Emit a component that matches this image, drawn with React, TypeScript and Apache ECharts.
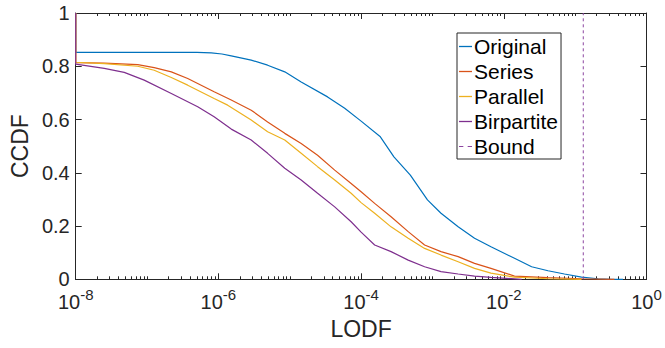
import React, { useEffect, useRef } from 'react';
import * as echarts from 'echarts';

// ---- data (x given as log10(LODF), y as CCDF) ----
const seriesNames = ['Original', 'Series', 'Parallel', 'Birpartite', 'Bound'];

const originalLogX = [-8, -8, -6.3, -6.1, -5.95, -5.82, -5.54, -5.31, -5.07, -4.84, -4.47, -4.23, -4.0, -3.73, -3.54, -3.31, -3.07, -2.88, -2.64, -2.41, -2.18, -1.85, -1.61, -1.38, -1.15, -0.91, -0.68, -0.49, -0.33];
const originalCcdf = [1, 0.852, 0.852, 0.85, 0.846, 0.839, 0.823, 0.804, 0.779, 0.741, 0.685, 0.642, 0.594, 0.535, 0.46, 0.391, 0.298, 0.248, 0.197, 0.154, 0.122, 0.079, 0.047, 0.032, 0.02, 0.008, 0.002, 0, 0];

const seriesLogX = [-8, -8, -7.6, -7.13, -6.9, -6.66, -6.43, -6.06, -5.82, -5.54, -5.31, -5.07, -4.84, -4.61, -4.37, -4.14, -4.0, -3.81, -3.58, -3.34, -3.11, -2.88, -2.64, -2.41, -2.18, -1.85, -1.38, -0.91, -0.45];
const seriesCcdf = [1, 0.814, 0.812, 0.806, 0.795, 0.779, 0.754, 0.704, 0.673, 0.635, 0.591, 0.548, 0.51, 0.466, 0.41, 0.36, 0.329, 0.285, 0.235, 0.179, 0.129, 0.104, 0.085, 0.06, 0.041, 0.012, 0.006, 0.002, 0];

const parallelLogX = [-8, -8, -7.6, -7.13, -6.9, -6.66, -6.43, -6.06, -5.87, -5.54, -5.31, -5.07, -4.84, -4.61, -4.37, -4.14, -4.0, -3.81, -3.58, -3.34, -3.11, -2.88, -2.64, -2.41, -2.18, -1.85, -1.38, -0.91];
const parallelCcdf = [1, 0.815, 0.81, 0.8, 0.785, 0.758, 0.729, 0.679, 0.654, 0.598, 0.554, 0.523, 0.473, 0.423, 0.373, 0.323, 0.288, 0.248, 0.197, 0.154, 0.116, 0.091, 0.066, 0.041, 0.023, 0.008, 0.002, 0];

const bipartiteLogX = [-8, -8, -7.6, -7.32, -7.04, -6.66, -6.29, -6.06, -5.82, -5.54, -5.31, -5.07, -4.84, -4.61, -4.37, -4.14, -4.0, -3.81, -3.58, -3.34, -3.11, -2.88, -2.64, -2.41, -2.18, -1.75];
const bipartiteCcdf = [1, 0.808, 0.792, 0.777, 0.748, 0.698, 0.648, 0.61, 0.564, 0.523, 0.473, 0.417, 0.373, 0.323, 0.272, 0.216, 0.177, 0.129, 0.104, 0.072, 0.047, 0.029, 0.02, 0.012, 0.0075, 0];

const boundLodf = 0.13;
const boundCcdf = [0, 1];

const xLabelExps = [-8, -6, -4, -2, 0];
const yTicks = [0, 0.2, 0.4, 0.6, 0.8, 1];

const colors = ['#0072BD', '#D95319', '#EDB120', '#7E2F8E', '#8C45A0'];

// minor tick positions (log10 units): 2..9 x 10^k and odd decades
const minorTickExps: number[] = [];
for (let k = -8; k < 0; k++) {
  for (let m = 1; m <= 9; m++) {
    if (m === 1 && k % 2 === 0) continue;
    minorTickExps.push(k + Math.log10(m));
  }
}

const FONT = "'Liberation Sans', Arial, Helvetica, sans-serif";
const AX = '#262626';

const toPairs = (exps: number[], vals: number[]) => exps.map((e, i) => [Math.pow(10, e), vals[i]]);

export default function App() {
  const ref = useRef<HTMLDivElement>(null);
  useEffect(() => {
    if (!ref.current) return;
    const chart = echarts.init(ref.current, undefined, { renderer: 'svg' });
    const logAxisBase = {
      type: 'log',
      logBase: 10,
      min: Math.pow(10, xLabelExps[0]),
      max: Math.pow(10, xLabelExps[xLabelExps.length - 1]),
      interval: 2,
      splitNumber: 4,
      splitLine: { show: false },
      minorTick: { show: false },
      axisLine: { show: true, onZero: false, lineStyle: { color: AX, width: 1 } },
      axisTick: { show: true, inside: true, length: 6, lineStyle: { color: AX, width: 1 } },
    };
    const minorAxisBase = {
      type: 'value',
      min: -8,
      max: 0,
      interval: 1,
      splitLine: { show: false },
      axisLine: { show: true, onZero: false, lineStyle: { color: AX, width: 1 } },
      axisLabel: { show: false },
      axisTick: { show: true, inside: true, length: 3, customValues: minorTickExps, lineStyle: { color: AX, width: 1 } },
    };
    const valAxisBase = {
      type: 'value',
      min: 0,
      max: 1,
      interval: 0.2,
      splitLine: { show: false },
      axisLine: { show: true, onZero: false, lineStyle: { color: AX, width: 1 } },
      axisTick: { show: true, inside: true, length: 6, lineStyle: { color: AX, width: 1 } },
    };
    const lineSeries = (name: string, data: number[][], color: string, dashed = false) => ({
      name,
      type: 'line',
      data,
      xAxisIndex: 0,
      yAxisIndex: 0,
      symbol: 'none',
      showSymbol: false,
      lineStyle: { color, width: dashed ? 1 : 1.2, type: dashed ? [3, 3] : 'solid' },
      itemStyle: { color },
    });
    chart.setOption({
      animation: false,
      backgroundColor: '#ffffff',
      grid: { left: 74.5, top: 13, width: 572, height: 266.3, containLabel: false },
      legend: {
        orient: 'vertical',
        left: 457,
        top: 33,
        padding: [1, 3, 0, 2],
        itemGap: 0,
        itemWidth: 13,
        itemHeight: 1.3,
        icon: 'rect',
        borderColor: AX,
        borderWidth: 1,
        backgroundColor: '#ffffff',
        textStyle: { fontSize: 21, color: '#000', fontFamily: FONT, lineHeight: 25, padding: [0, 0, 0, -3] },
        data: [
          { name: seriesNames[0] },
          { name: seriesNames[1] },
          { name: seriesNames[2] },
          { name: seriesNames[3] },
          { name: seriesNames[4], icon: 'path://M0,0 h4 v1 h-4 z M8,0 h4 v1 h-4 z' },
        ],
      },
      xAxis: [
        {
          ...logAxisBase,
          position: 'bottom',
          name: 'LODF',
          nameLocation: 'middle',
          nameGap: 38,
          nameTextStyle: { fontSize: 23, color: AX, fontFamily: FONT },
          axisLabel: {
            show: true,
            margin: 8,
            color: AX,
            fontFamily: FONT,
            formatter: (v: number) => {
              const e = Math.round(Math.log10(v));
              return xLabelExps.includes(e) ? `{b|10}{s|${e < 0 ? '-' : ''}${Math.abs(e)}}` : '';
            },
            rich: {
              b: { fontSize: 20, color: AX, fontFamily: FONT },
              s: { fontSize: 15, color: AX, fontFamily: FONT, padding: [0, 0, 14, 0] },
            },
          },
        },
        { ...logAxisBase, position: 'top', axisLabel: { show: false } },
        { ...minorAxisBase, position: 'bottom' },
        { ...minorAxisBase, position: 'top' },
      ],
      yAxis: [
        {
          ...valAxisBase,
          position: 'left',
          name: 'CCDF',
          nameLocation: 'middle',
          nameGap: 38,
          nameTextStyle: { fontSize: 23, color: AX, fontFamily: FONT },
          axisLabel: {
            show: true,
            margin: 6,
            fontSize: 20,
            color: AX,
            fontFamily: FONT,
            formatter: (v: number) => (yTicks.some((t) => Math.abs(t - v) < 1e-9) ? String(+v.toFixed(1)) : ''),
          },
        },
        { ...valAxisBase, position: 'right', axisLabel: { show: false } },
      ],
      series: [
        lineSeries(seriesNames[0], toPairs(originalLogX, originalCcdf), colors[0]),
        lineSeries(seriesNames[1], toPairs(seriesLogX, seriesCcdf), colors[1]),
        lineSeries(seriesNames[2], toPairs(parallelLogX, parallelCcdf), colors[2]),
        lineSeries(seriesNames[3], toPairs(bipartiteLogX, bipartiteCcdf), colors[3]),
        lineSeries(seriesNames[4], boundCcdf.map((y) => [boundLodf, y]), colors[4], true),
      ],
    });
    return () => chart.dispose();
  }, []);
  return <div ref={ref} style={{ position: 'fixed', left: 0, top: 0, width: 665, height: 348, background: '#fff' }} />;
}
